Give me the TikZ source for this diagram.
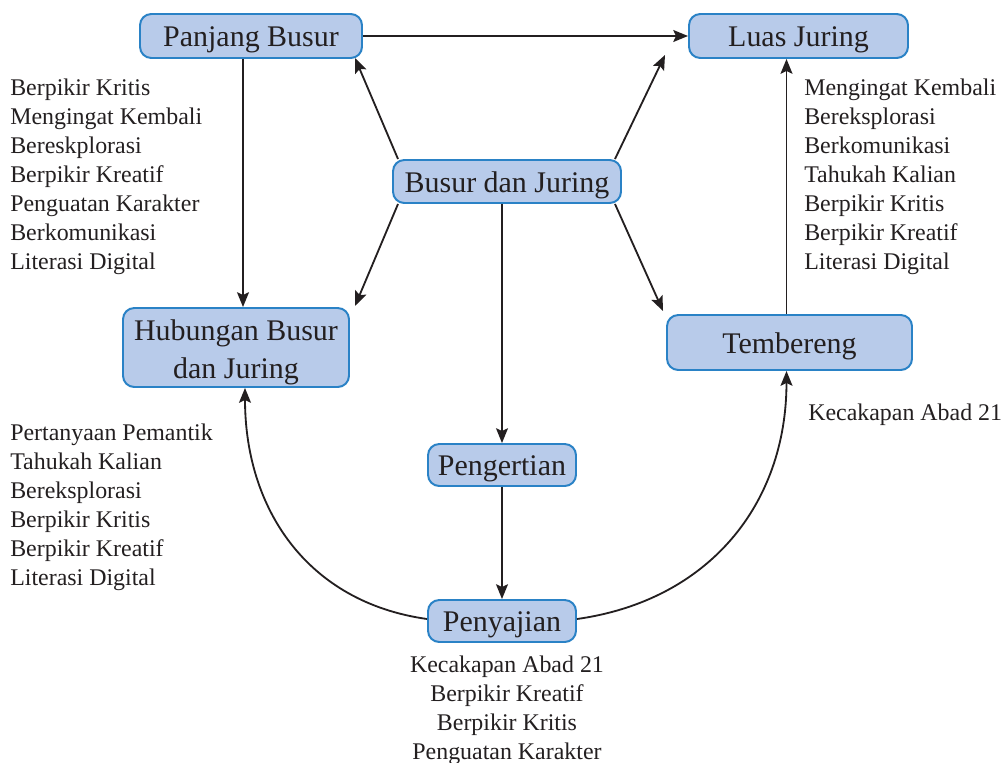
\documentclass[tikz,border=0pt]{standalone}
\usepackage{fontspec}
\setmainfont{Liberation Serif}
\usetikzlibrary{arrows.meta}
\definecolor{boxfill}{HTML}{B8CBEA}
\definecolor{boxdraw}{HTML}{2A82C6}
\definecolor{ink}{HTML}{231F20}
\newcommand{\dropText}[1]{\raisebox{-3pt}[\height][\depth]{#1}}
\begin{document}
\begin{tikzpicture}[x=0.025cm,y=-0.025cm,
  box/.style={draw=boxdraw, fill=boxfill, line width=1.4pt, rounded corners=8pt,
    font=\fontsize{21.3}{27}\selectfont, text=ink, align=center, inner sep=0pt},
  lbl/.style={font=\fontsize{17}{20.6}\selectfont, text=ink, inner sep=0pt},
  arr/.style={-{Stealth[length=10.5pt,width=8.5pt,inset=2pt]}, line width=1.3pt, draw=ink}]
\useasboundingbox (0,0) rectangle (1001,763);
\node[box, minimum width=222*0.025cm, minimum height=44*0.025cm] (pb) at (251,36) {\dropText{Panjang Busur}};
\node[box, minimum width=219*0.025cm, minimum height=44*0.025cm] (lj) at (798.5,36) {\dropText{Luas Juring}};
\node[box, minimum width=228*0.025cm, minimum height=43*0.025cm] (bj) at (507,181.5) {\dropText{Busur dan Juring}};
\node[box, minimum width=226*0.025cm, minimum height=79*0.025cm] (hb) at (236,347.5) {\dropText{\begin{tabular}{@{}c@{}}Hubungan Busur\\dan Juring\end{tabular}}};
\node[box, minimum width=245*0.025cm, minimum height=55*0.025cm] (tb) at (789.5,342.5) {\dropText{Tembereng}};
\node[box, minimum width=148*0.025cm, minimum height=42*0.025cm] (pg) at (502,465) {\dropText{Pengertian}};
\node[box, minimum width=148*0.025cm, minimum height=42*0.025cm] (py) at (502,621) {\dropText{Penyajian}};

\draw[arr] (pb.east) -- (lj.west);
\draw[arr] ([xshift=6*0.025cm]bj.north west) -- ([xshift=-8*0.025cm,yshift=1*0.025cm]pb.south east);
\draw[arr] ([xshift=-7*0.025cm]bj.north east) -- ([xshift=-23*0.025cm,yshift=4*0.025cm]lj.south west);
\draw[arr] ([xshift=6*0.025cm]bj.south west) -- ([xshift=5*0.025cm,yshift=1*0.025cm]hb.north east);
\draw[arr] ([xshift=-7*0.025cm]bj.south east) -- ([xshift=-3*0.025cm,yshift=3*0.025cm]tb.north west);
\draw[arr] (bj.south -| pg.north) -- (pg.north);
\draw[arr] ([xshift=-8*0.025cm]pb.south) -- ([xshift=7*0.025cm]hb.north);
\draw[arr] ([xshift=-3*0.025cm]tb.north) -- ([xshift=-12*0.025cm]lj.south);
\draw[arr] (pg.south) -- (py.north);
\draw[arr] ([yshift=2*0.025cm]py.west) to[out=172,in=-90,looseness=1.05] ([xshift=9*0.025cm]hb.south);
\draw[arr] ([yshift=2*0.025cm]py.east) to[out=8,in=-90,looseness=1.05] ([xshift=-3*0.025cm]tb.south);

\node[lbl, anchor=north west, align=left] (l1) at (10,79) {Berpikir Kritis\\Mengingat Kembali\\Bereskplorasi\\Berpikir Kreatif\\Penguatan Karakter\\Berkomunikasi\\Literasi Digital};
\node[lbl, anchor=north west, align=left] (l2) at (804,79) {Mengingat Kembali\\Bereksplorasi\\Berkomunikasi\\Tahukah Kalian\\Berpikir Kritis\\Berpikir Kreatif\\Literasi Digital};
\node[lbl, anchor=north west, align=left] (l3) at (10,424) {Pertanyaan Pemantik\\Tahukah Kalian\\Bereksplorasi\\Berpikir Kritis\\Berpikir Kreatif\\Literasi Digital};
\node[lbl, anchor=west] (l4) at (808,415) {Kecakapan Abad 21};
\node[lbl, anchor=north, align=center] (l5) at (507,656) {Kecakapan Abad 21\\Berpikir Kreatif\\Berpikir Kritis\\Penguatan Karakter};
\end{tikzpicture}
\end{document}
